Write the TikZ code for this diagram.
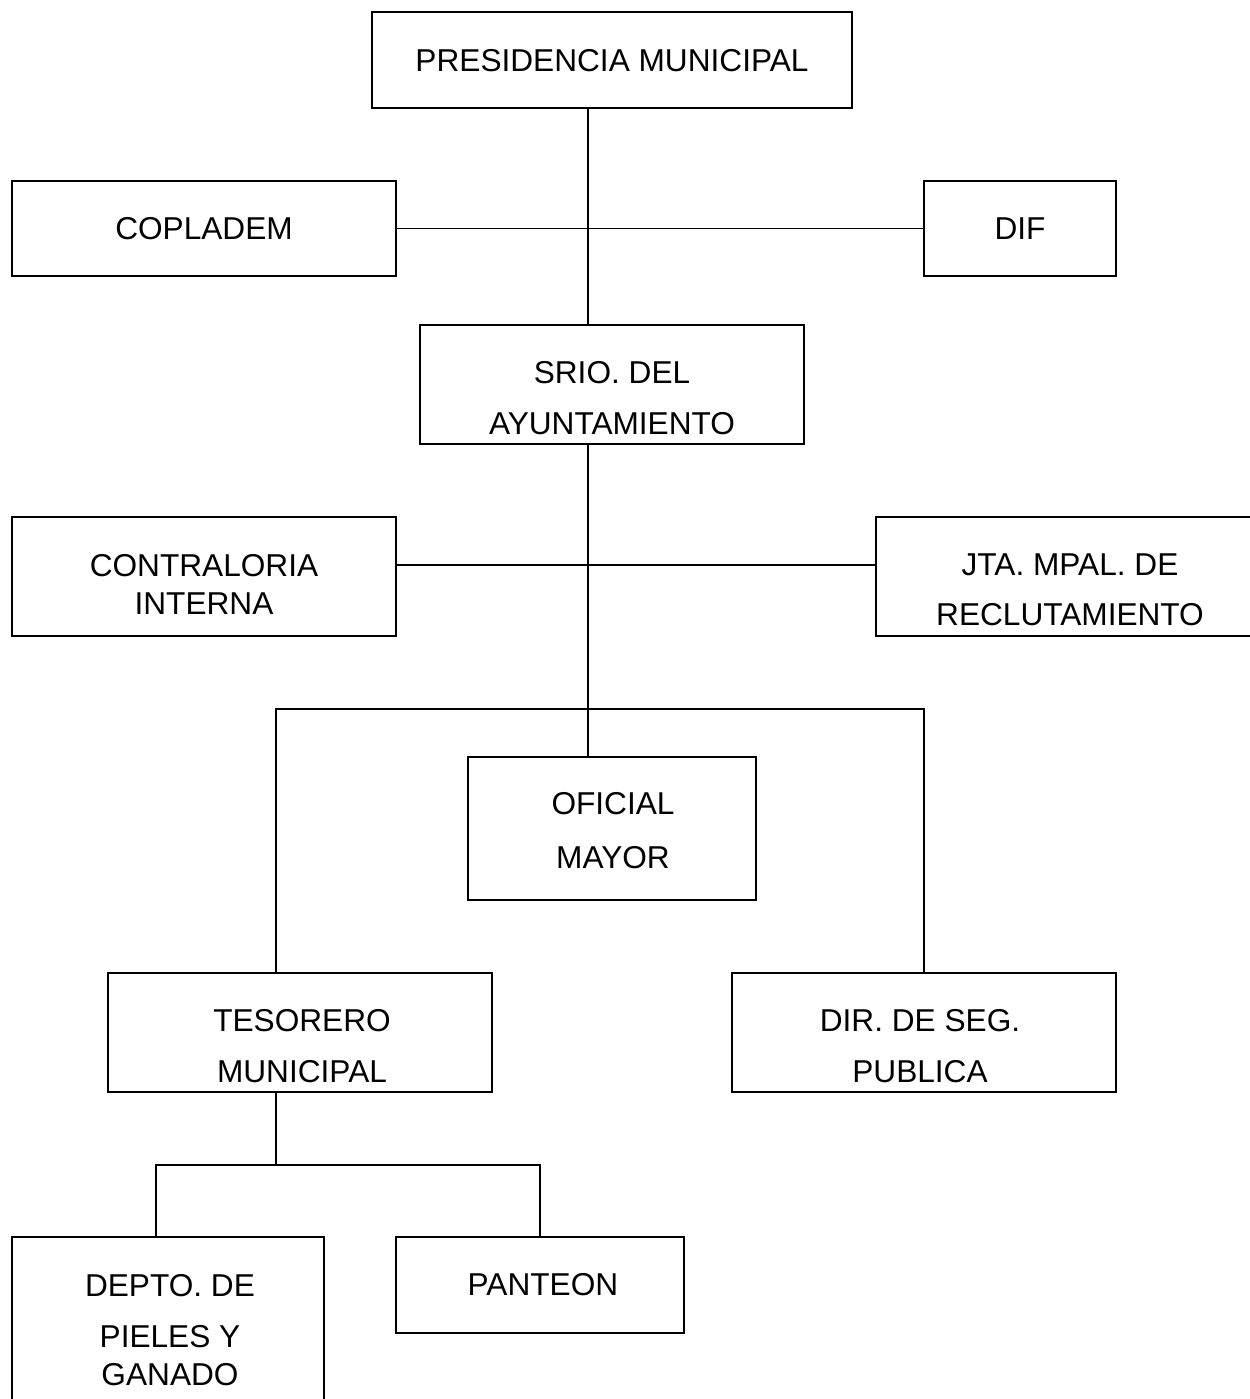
\documentclass[tikz,border=0pt]{standalone}
\usepackage{fontspec}
\setmainfont{Liberation Sans}
\tikzset{
	box/.style 2 args = {shape=rectangle, draw, line width=1.1pt,
		inner sep=0pt, minimum width=#1, minimum height=#2},
	txt/.style  = {align=center, inner sep=0pt,
		font=\fontsize{18}{29}\selectfont},
	link/.style = {draw, line width=1.1pt}
}
\begin{document}
\begin{tikzpicture}[x=0.02cm, y=-0.02cm]
	\useasboundingbox (0,0) rectangle (1250,1399);
	\clip (0,0) rectangle (1250,1399);
	\fill[white] (0,0) rectangle (1250,1399);

	% boxes
	\node [box={9.6cm}{1.92cm}] (pres) at (612,60) {};
	\node [txt] (pres-t) at (612,61) {PRESIDENCIA MUNICIPAL};
	\node [box={7.68cm}{1.9cm}] (coplad) at (204,228.5) {};
	\node [txt] (coplad-t) at (204,229) {COPLADEM};
	\node [box={3.84cm}{1.9cm}] (dif) at (1020,228.5) {};
	\node [txt] (dif-t) at (1020,229) {DIF};
	\node [box={7.68cm}{2.38cm}] (srio) at (612,384.5) {};
	\node [txt] (srio-t) at (612,398.5) {SRIO. DEL\\AYUNTAMIENTO};
	\node [box={7.68cm}{2.38cm}] (contra) at (204,576.5) {};
	\node [txt] (contra-t) at (204,584) {CONTRALORIA\\[-7.4pt]INTERNA};
	\node [box={7.68cm}{2.38cm}] (jta) at (1068,576.5) {};
	\node [txt] (jta-t) at (1070,590) {JTA. MPAL. DE\\[-0.6pt]RECLUTAMIENTO};
	\node [box={5.76cm}{2.86cm}] (oficial) at (612,828.5) {};
	\node [txt] (oficial-t) at (613,831) {OFICIAL\\[1.7pt]MAYOR};
	\node [box={7.68cm}{2.38cm}] (tesor) at (300,1032.5) {};
	\node [txt] (tesor-t) at (302,1046) {TESORERO\\MUNICIPAL};
	\node [box={7.68cm}{2.38cm}] (dirseg) at (924,1032.5) {};
	\node [txt] (dirseg-t) at (920,1046) {DIR. DE SEG.\\PUBLICA};
	\node [box={6.24cm}{3.8cm}] (depto) at (168,1332) {};
	\node [txt] (depto-t) at (170,1330) {DEPTO. DE\\PIELES Y\\[-7.4pt]GANADO};
	\node [box={5.76cm}{1.92cm}] (panteon) at (540,1285) {};
	\node [txt] (panteon-t) at (543,1285) {PANTEON};

	% trunk and bars
	\coordinate (trunk) at (588,0);
	\coordinate (bar2) at (588,565);
	\coordinate (bar3) at (588,709);
	\coordinate (tleg) at (276,709);
	\coordinate (fork) at (276,1165);
	\draw[link] (pres.south -| trunk) -- (srio.north -| trunk);
	\draw[link] (coplad.east) -- (dif.west);
	\draw[link] (srio.south -| trunk) -- (oficial.north -| trunk);
	\draw[link] (contra.east |- bar2) -- (jta.west |- bar2);
	\draw[link] (tesor.north -| tleg) -- (tleg) -- (bar3 -| dirseg.north) -- (dirseg.north);
	\draw[link] (tesor.south -| fork) -- (fork);
	\draw[link] (depto.north -| 156,0) |- (fork) -| (panteon.north);
\end{tikzpicture}
\end{document}
